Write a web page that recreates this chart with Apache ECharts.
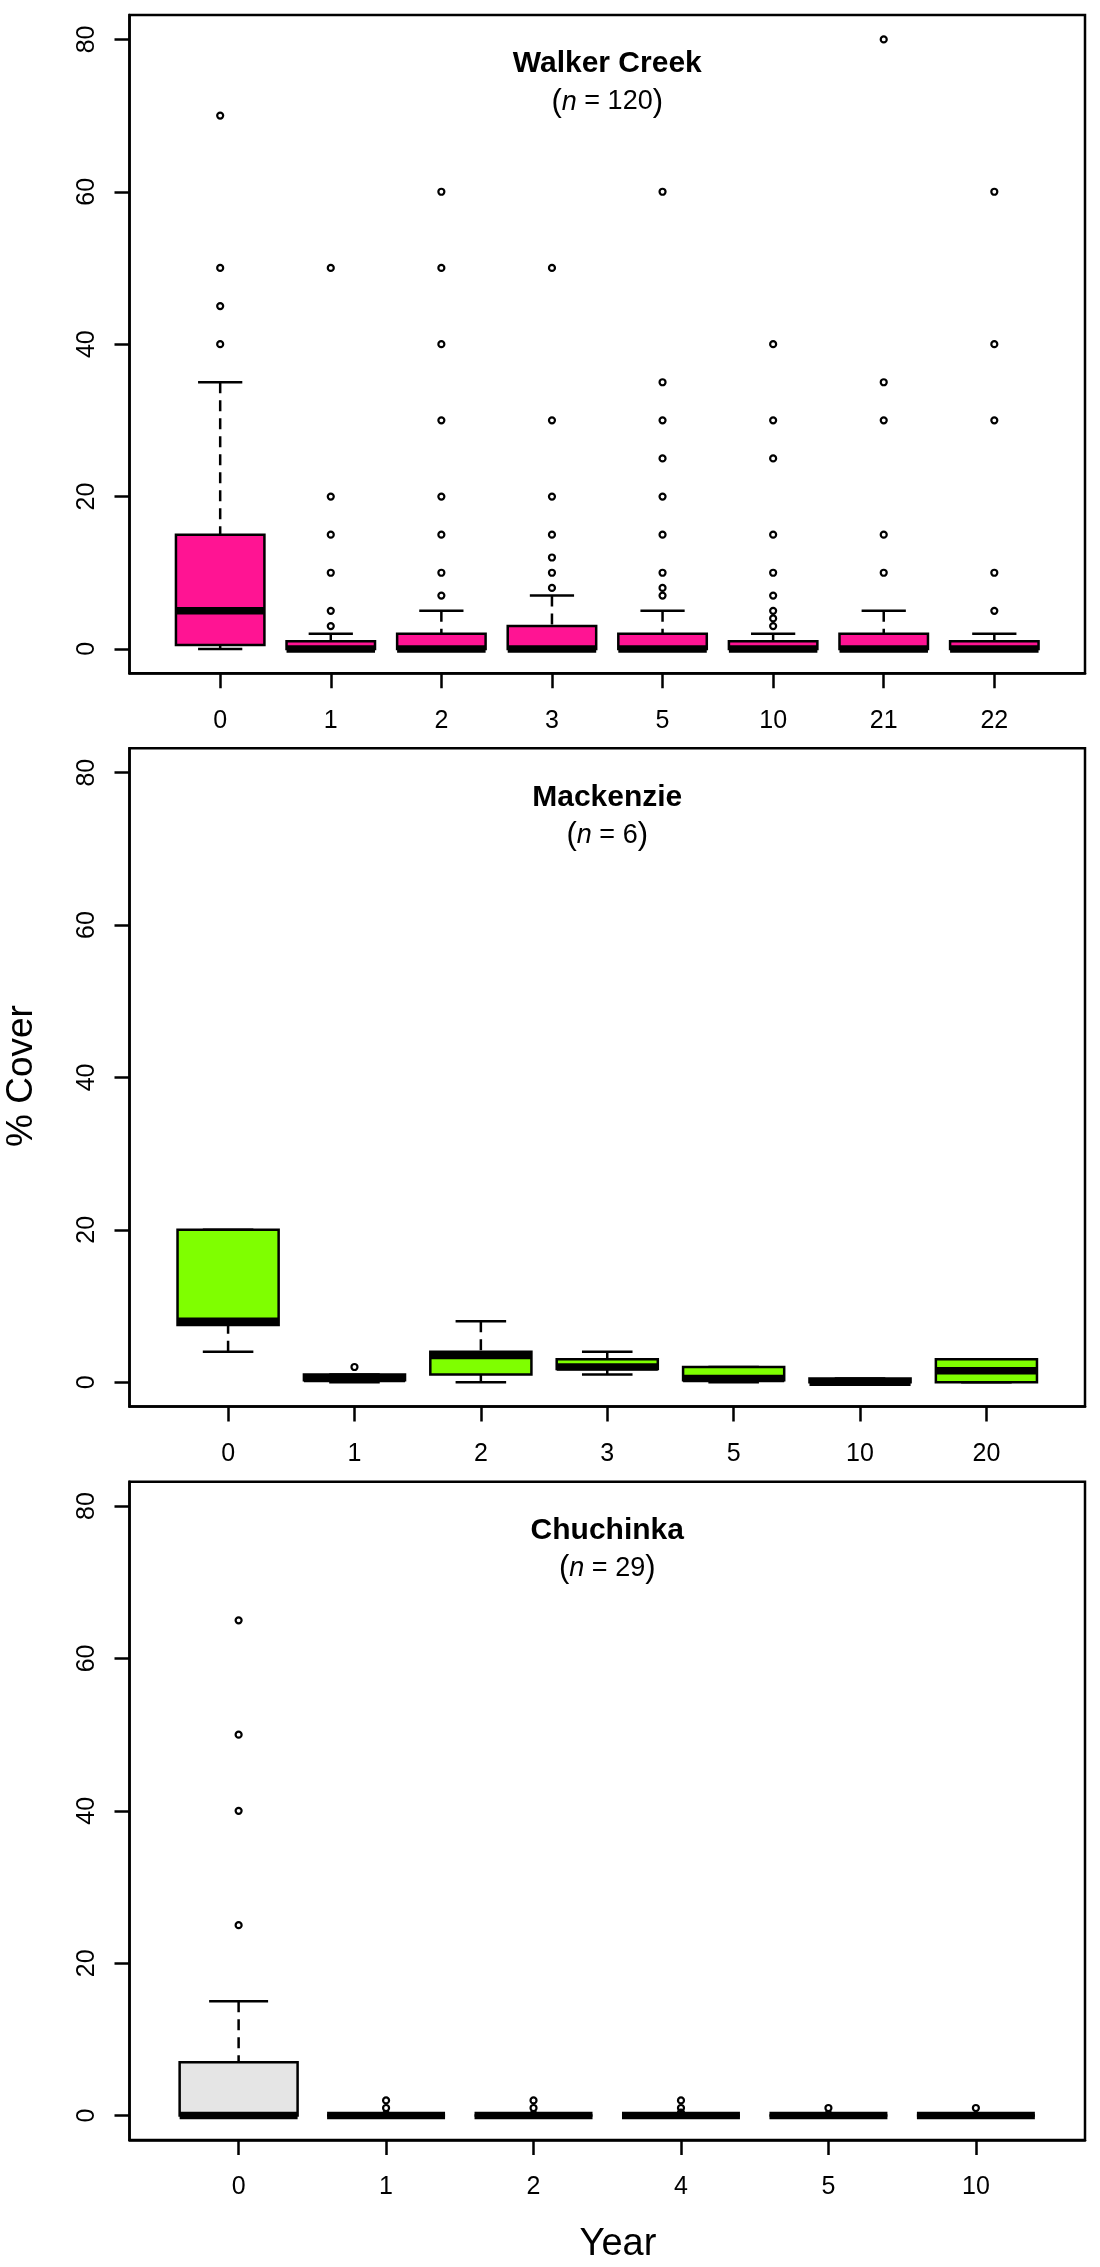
<!DOCTYPE html>
<html>
<head>
<meta charset="utf-8">
<title>% Cover by Year</title>
<script src="https://cdn.jsdelivr.net/npm/echarts@6/dist/echarts.min.js"></script>
<style>
  html, body { margin: 0; padding: 0; background: #fff; }
  #main { width: 1100px; height: 2267px; }
</style>
</head>
<body>
<div id="main"></div>
<script type="text/javascript">
// shared y ticks
var yTicks = [0, 20, 40, 60, 80];

// box stats per year: [min, q1, median, q3, max]
var wkYears = ['0', '1', '2', '3', '5', '10', '21', '22'];
var wkStats = [
  [0, 0.5, 5, 15, 35],
  [0, 0, 0, 1, 2],
  [0, 0, 0, 2, 5],
  [0, 0, 0, 3, 7],
  [0, 0, 0, 2, 5],
  [0, 0, 0, 1, 2],
  [0, 0, 0, 2, 5],
  [0, 0, 0, 1, 2]
];
var wkOutliers = [
  [70, 50, 45, 40],
  [50, 20, 15, 10, 5, 3],
  [60, 50, 40, 30, 20, 15, 10, 7],
  [50, 30, 20, 15, 12, 10, 8],
  [60, 35, 30, 25, 20, 15, 10, 8, 7],
  [40, 30, 25, 15, 10, 7, 5, 4, 3],
  [80, 35, 30, 15, 10],
  [60, 40, 30, 10, 5]
];

var mkYears = ['0', '1', '2', '3', '5', '10', '20'];
var mkStats = [
  [4, 7.5, 8, 20, 20],
  [0, 0.25, 0.5, 1, 1],
  [0, 1, 3.5, 4, 8],
  [1, 1.75, 2, 3, 4],
  [0, 0.25, 0.5, 2, 2],
  [0, 0, 0, 0.5, 0.5],
  [0, 0, 1.5, 3, 3]
];
var mkOutliers = [[], [2], [], [], [], [], []];

var chYears = ['0', '1', '2', '4', '5', '10'];
var chStats = [
  [0, 0, 0, 7, 15],
  [0, 0, 0, 0, 0],
  [0, 0, 0, 0, 0],
  [0, 0, 0, 0, 0],
  [0, 0, 0, 0, 0],
  [0, 0, 0, 0, 0]
];
var chOutliers = [
  [65, 50, 40, 25],
  [2, 1, 0.2],
  [2, 1, 0.2],
  [2, 1, 0.4],
  [1, 0.2],
  [1]
];

var FONT = '"Liberation Sans", Arial, sans-serif';

var panels = [
  {name: 'Walker Creek', n: 120, years: wkYears, stats: wkStats, outliers: wkOutliers, fill: '#FF1493', top: 15},
  {name: 'Mackenzie', n: 6, years: mkYears, stats: mkStats, outliers: mkOutliers, fill: '#7FFF00', top: 748.3},
  {name: 'Chuchinka', n: 29, years: chYears, stats: chStats, outliers: chOutliers, fill: '#E5E5E5', top: 1481.7}
];

var plotLeft = 129.5, plotRight = 1085, plotH = 658.3;
var midX = (plotLeft + plotRight) / 2;

// R style box: dashed whiskers, half-width staples, thick median
function boxRenderer(fill) {
  return function (params, api) {
    var x = api.value(0);
    var p = [];
    for (var k = 1; k <= 5; k++) p.push(api.coord([x, api.value(k)]));
    var bw = api.size([0.8, 0])[0];
    var cx = p[0][0];
    var thin = {stroke: '#000', lineWidth: 2.5};
    var dash = {stroke: '#000', lineWidth: 2.5, lineDash: [11, 7]};
    return {
      type: 'group',
      children: [
        {type: 'line', shape: {x1: cx, y1: p[0][1], x2: cx, y2: p[1][1]}, style: dash},
        {type: 'line', shape: {x1: cx, y1: p[4][1], x2: cx, y2: p[3][1]}, style: dash},
        {type: 'line', shape: {x1: cx - bw / 4, y1: p[0][1], x2: cx + bw / 4, y2: p[0][1]}, style: thin},
        {type: 'line', shape: {x1: cx - bw / 4, y1: p[4][1], x2: cx + bw / 4, y2: p[4][1]}, style: thin},
        {type: 'rect', shape: {x: cx - bw / 2, y: p[3][1], width: bw, height: p[1][1] - p[3][1]},
          style: {fill: fill, stroke: '#000', lineWidth: 2.5}},
        {type: 'line', shape: {x1: cx - bw / 2, y1: p[2][1], x2: cx + bw / 2, y2: p[2][1]},
          style: {stroke: '#000', lineWidth: 7.5}}
      ]
    };
  };
}

var grid = [], xAxis = [], yAxis = [], series = [], graphic = [];
var tickStyle = {color: '#000', width: 2.5};

panels.forEach(function (pn, i) {
  var n = pn.years.length;
  var pos = pn.years.map(function (y, j) { return j + 1; });
  grid.push({
    left: plotLeft, top: pn.top, width: plotRight - plotLeft, height: plotH,
    show: true, borderColor: '#000', borderWidth: 2.5
  });
  xAxis.push({
    type: 'value', gridIndex: i,
    min: 0.5 - 0.04 * n, max: n + 0.5 + 0.04 * n,
    axisLine: {show: true, onZero: false, lineStyle: {color: '#000', width: 2.5}},
    splitLine: {show: false},
    axisTick: {show: true, customValues: pos, length: 15, lineStyle: tickStyle},
    axisLabel: {
      customValues: pos, margin: 35, fontSize: 25, fontFamily: FONT, color: '#000',
      formatter: (function (years) { return function (v) { return years[Math.round(v) - 1]; }; })(pn.years)
    }
  });
  yAxis.push({
    type: 'value', gridIndex: i, min: -3.2, max: 83.2,
    axisLine: {show: true, onZero: false, lineStyle: {color: '#000', width: 2.5}},
    splitLine: {show: false},
    axisTick: {show: true, customValues: yTicks, length: 15, lineStyle: tickStyle},
    axisLabel: {customValues: yTicks, rotate: 90, margin: 30, fontSize: 25, fontFamily: FONT, color: '#000'}
  });
  series.push({
    type: 'custom', xAxisIndex: i, yAxisIndex: i,
    renderItem: boxRenderer(pn.fill),
    encode: {x: 0, y: [1, 2, 3, 4, 5]},
    data: pn.stats.map(function (s, j) { return [j + 1].concat(s); }),
    z: 2
  });
  var pts = [];
  pn.outliers.forEach(function (vals, j) {
    vals.forEach(function (v) { pts.push([j + 1, v]); });
  });
  series.push({
    type: 'scatter', xAxisIndex: i, yAxisIndex: i,
    symbol: 'circle', symbolSize: 6,
    itemStyle: {color: 'rgba(255,255,255,0)', borderColor: '#000', borderWidth: 2.2, opacity: 1},
    data: pts,
    z: 3
  });
  graphic.push({
    type: 'text', x: midX, y: pn.top + 49,
    style: {text: pn.name, fontSize: 30, fontWeight: 'bold', fontFamily: FONT, fill: '#000',
      align: 'center', verticalAlign: 'middle'}
  });
  graphic.push({
    type: 'text', x: midX, y: pn.top + 87,
    style: {
      text: '{p|(}{i|n}{t| = ' + pn.n + '}{p|)}',
      align: 'center', verticalAlign: 'middle', fill: '#000',
      rich: {
        p: {fontSize: 31, fontFamily: FONT, fill: '#000'},
        i: {fontSize: 27, fontStyle: 'italic', fontFamily: FONT, fill: '#000'},
        t: {fontSize: 27, fontFamily: FONT, fill: '#000'}
      }
    }
  });
});

// tick-only twin axes (no series on them), same scales, so the outward ticks always get drawn
panels.forEach(function (pn, i) {
  var n = pn.years.length;
  var pos = pn.years.map(function (y, j) { return j + 1; });
  xAxis.push({
    type: 'value', gridIndex: i, position: 'bottom',
    min: 0.5 - 0.04 * n, max: n + 0.5 + 0.04 * n,
    axisLine: {show: false, onZero: false},
    splitLine: {show: false},
    axisTick: {show: true, customValues: pos, length: 15, lineStyle: tickStyle},
    axisLabel: {show: false}
  });
  yAxis.push({
    type: 'value', gridIndex: i, position: 'left', min: -3.2, max: 83.2,
    axisLine: {show: false, onZero: false},
    splitLine: {show: false},
    axisTick: {show: true, customValues: yTicks, length: 15, lineStyle: tickStyle},
    axisLabel: {show: false}
  });
});

graphic.push({
  type: 'text', x: 22, y: 1076, rotation: Math.PI / 2,
  style: {text: '% Cover', fontSize: 37, fontFamily: FONT, fill: '#000', align: 'center', verticalAlign: 'middle'}
});
graphic.push({
  type: 'text', x: 618, y: 2245,
  style: {text: 'Year', fontSize: 38, fontFamily: FONT, fill: '#000', align: 'center', verticalAlign: 'middle'}
});

var myChart = echarts.init(document.getElementById('main'));
myChart.setOption({
  animation: false,
  grid: grid,
  xAxis: xAxis,
  yAxis: yAxis,
  series: series
});
// titles and axis names go on afterwards
myChart.setOption({graphic: graphic});
</script>
</body>
</html>
